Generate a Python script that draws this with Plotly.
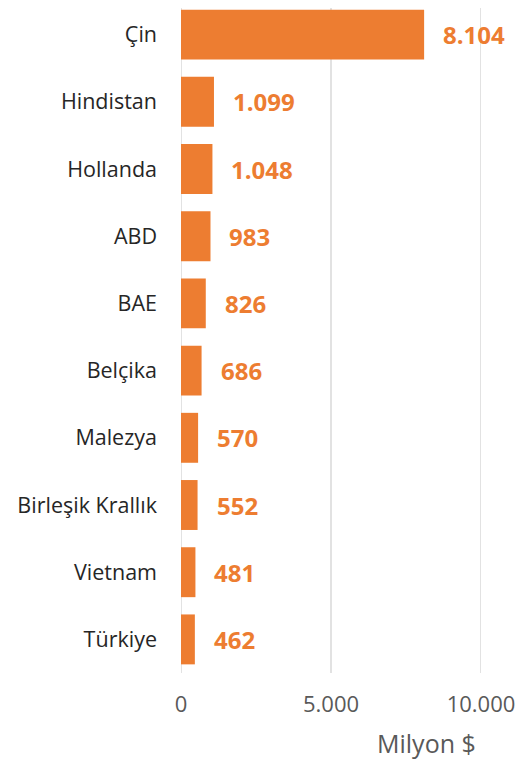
import plotly.graph_objects as go

countries = ["Çin", "Hindistan", "Hollanda", "ABD", "BAE", "Belçika", "Malezya",
             "Birleşik Krallık", "Vietnam", "Türkiye"]
values = [8104, 1099, 1048, 983, 826, 686, 570, 552, 481, 462]
tick_vals = [0, 5000, 10000]
tick_text = ["0", "5.000", "10.000"]
axis_title = "Milyon $"

orange = "#ED7D31"
font_family = "'Open Sans', sans-serif"

fig = go.Figure()
fig.add_trace(go.Bar(
    x=values, y=countries, orientation="h",
    marker=dict(color=orange, line=dict(width=0)),
    hoverinfo="x+y",
))

for c, v in zip(countries, values):
    fig.add_annotation(
        x=v, y=c, xref="x", yref="y",
        text="<b>" + f"{v:,}".replace(",", ".") + "</b>",
        showarrow=False, xanchor="left", yanchor="middle", xshift=17,
        font=dict(family=font_family, size=24, color=orange),
    )

fig.add_annotation(
    x=1, y=0, xref="paper", yref="paper", xanchor="right", yanchor="middle",
    xshift=-3, yshift=-70, text=axis_title, showarrow=False,
    font=dict(family=font_family, size=25, color="#595959"),
)

# vertical gridlines (extended to the top edge of the page)
for tv in tick_vals:
    fig.add_vline(x=tv, y0=0, y1=1.013,
                  line=dict(color="#D9D9D9", width=1.5), layer="below")

# the page body adds an 8px offset; margins compensate for it
fig.update_layout(
    width=525, height=760,
    margin=dict(l=173, r=52, t=0, b=95, autoexpand=False),
    plot_bgcolor="white", paper_bgcolor="white",
    bargap=0.257,
    showlegend=False,
    font=dict(family=font_family),
    xaxis=dict(
        range=[0, 10000], tickvals=tick_vals, ticktext=tick_text,
        showgrid=False, zeroline=False, showline=False, ticks="",
        tickfont=dict(family=font_family, size=22, color="#595959"),
        ticklabelstandoff=16, automargin=False,
        fixedrange=True,
    ),
    yaxis=dict(
        range=[len(countries) - 0.5, -0.396], showgrid=False, zeroline=False,
        showline=False, ticks="", ticklabelstandoff=23, automargin=False,
        tickfont=dict(family=font_family, size=21.5, color="#262626"),
    ),
)

fig.write_html("out.html")
